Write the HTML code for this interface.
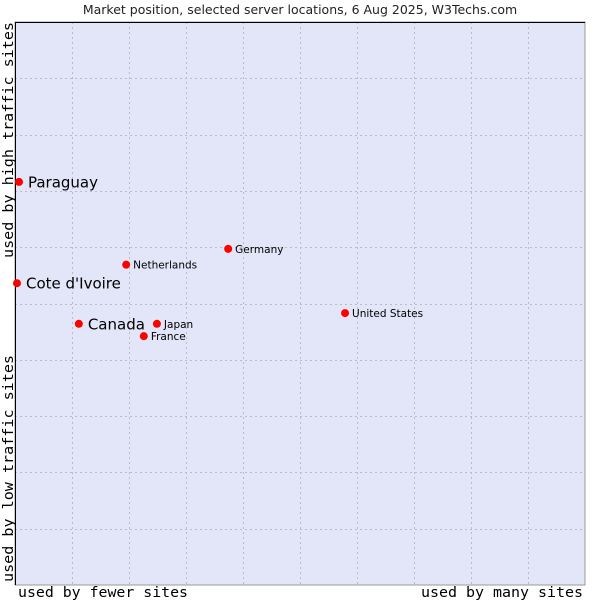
<!DOCTYPE html>
<html><head><meta charset="utf-8"><style>
body{margin:0;background:#fff;}
svg{display:block;}
</style></head><body>
<svg id="chart" width="600" height="600" xmlns="http://www.w3.org/2000/svg">
<rect x="0" y="0" width="600" height="600" fill="#fff"/>
<text x="300" y="14" text-anchor="middle" font-family="DejaVu Sans, sans-serif" font-size="12.5" fill="#222">Market position, selected server locations, 6 Aug 2025, W3Techs.com</text>
<rect x="15" y="22" width="570" height="563" fill="#e3e5f8" stroke="#999" stroke-width="1"/>
<g id="grid"></g>
<line x1="15.5" y1="22" x2="15.5" y2="585" stroke="#000"/>
<line x1="15" y1="22.5" x2="585" y2="22.5" stroke="#000"/>
<g id="points"></g>
<text x="18" y="597" textLength="170" lengthAdjust="spacingAndGlyphs" font-family="DejaVu Sans Mono, monospace" font-size="14" fill="#000">used by fewer sites</text>
<text x="421" y="597" textLength="162" lengthAdjust="spacingAndGlyphs" font-family="DejaVu Sans Mono, monospace" font-size="14" fill="#000">used by many sites</text>
<text transform="translate(13,582) rotate(-90)" textLength="227" lengthAdjust="spacingAndGlyphs" font-family="DejaVu Sans Mono, monospace" font-size="14" fill="#000">used by low traffic sites</text>
<text transform="translate(13,258) rotate(-90)" textLength="236" lengthAdjust="spacingAndGlyphs" font-family="DejaVu Sans Mono, monospace" font-size="14" fill="#000">used by high traffic sites</text>
</svg>
<script>
const names = ["Paraguay","Cote d'Ivoire","Canada","Netherlands","Germany","United States","Japan","France"];
const xValues = [0.7,0.35,11.2,19.5,37.4,57.9,24.9,22.6];
const yValues = [71.6,53.6,46.4,56.9,59.7,48.3,46.4,44.2];
const bigLabel = [true,true,true,false,false,false,false,false];
const NS="http://www.w3.org/2000/svg";
const X0=15,X1=585,Y0=585,Y1=22;
function sx(v){return X0+(X1-X0)*v/100;}
function sy(v){return Y0-(Y0-Y1)*v/100;}
const grid=document.getElementById('grid');
for(let i=1;i<10;i++){
  const x=Math.round(sx(i*10))+0.5;
  const l=document.createElementNS(NS,'line');
  l.setAttribute('x1',x);l.setAttribute('x2',x);l.setAttribute('y1',Y1);l.setAttribute('y2',Y0);
  l.setAttribute('stroke','#bcbcbc');l.setAttribute('stroke-dasharray','2,3');
  
  
  grid.appendChild(l);
  const y=Math.round(sy(i*10))+0.5;
  const h=document.createElementNS(NS,'line');
  h.setAttribute('x1',X0);h.setAttribute('x2',X1);h.setAttribute('y1',y);h.setAttribute('y2',y);
  h.setAttribute('stroke','#bcbcbc');h.setAttribute('stroke-dasharray','2,3');
  
  
  grid.appendChild(h);
}
const pts=document.getElementById('points');
names.forEach((n,i)=>{
  const cx=sx(xValues[i]),cy=sy(yValues[i]);
  const d=document.createElementNS(NS,'circle');
  d.setAttribute('cx',cx);d.setAttribute('cy',cy);d.setAttribute('r',4);
  d.setAttribute('fill','#f00');
  
  
  pts.appendChild(d);
  const t=document.createElementNS(NS,'text');
  t.setAttribute('x',cx+(bigLabel[i]?9:7));
  t.setAttribute('y',cy+(bigLabel[i]?5.5:4));
  t.setAttribute('font-family','DejaVu Sans, sans-serif');
  t.setAttribute('font-size',bigLabel[i]?'15':'10.5');
  t.setAttribute('fill','#000');
  t.textContent=n;
  
  
  pts.appendChild(t);
});
</script>
</body></html>
